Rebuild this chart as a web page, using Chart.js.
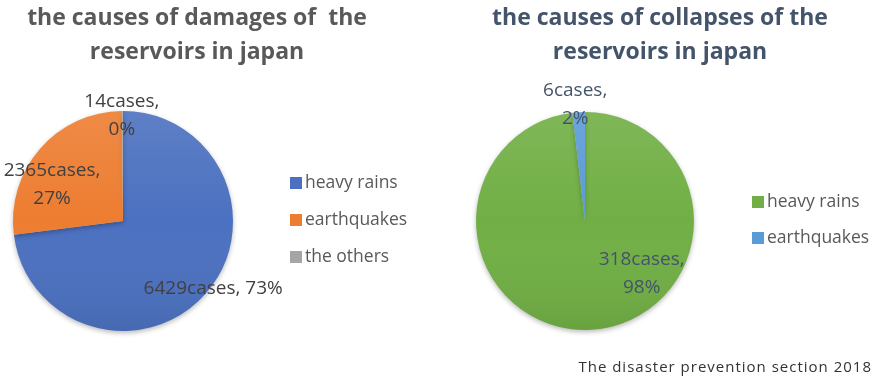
<!DOCTYPE html>
<html>
<head>
<meta charset="utf-8">
<script src="https://cdn.jsdelivr.net/npm/chart.js@4/dist/chart.umd.min.js"></script>
<style>
  html, body { margin: 0; padding: 0; background: #ffffff; }
  #wrap { position: relative; width: 877px; height: 382px; overflow: hidden; }
  #wrap canvas { position: absolute; left: 0; top: 0; }
</style>
</head>
<body>
<div id="wrap">
  <canvas id="damages" width="877" height="382"></canvas>
  <canvas id="collapses" width="877" height="382"></canvas>
</div>
<script>
// ---- data ----
const damageCauses = ['heavy rains', 'earthquakes', 'the others'];
const damageCases = [6429, 2365, 14];
const damageColors = ['#4C71C0', '#ED7D31', '#A5A5A5'];

const collapseCauses = ['heavy rains', 'earthquakes'];
const collapseCases = [318, 6];
const collapseColors = ['#71AF45', '#5B9BD5'];

const damageTitle = ['the causes of damages of  the', 'reservoirs in japan'];
const collapseTitle = ['the causes of collapses of the', 'reservoirs in japan'];
const sourceNote = 'The disaster prevention section 2018';

const FONT = '"Open Sans", "Noto Sans", sans-serif';

// soft drop shadow under the pie, plus a light top-to-bottom sheen
const pieShading = {
  id: 'pieShading',
  beforeDatasetsDraw(chart) {
    const c = chart.ctx;
    c.save();
    c.shadowColor = 'rgba(0,0,0,0.28)';
    c.shadowBlur = 5;
    c.shadowOffsetY = 2;
  },
  afterDatasetsDraw(chart) {
    const c = chart.ctx;
    c.restore();
    const arc = chart.getDatasetMeta(0).data[0];
    if (!arc) return;
    const r = arc.outerRadius;
    c.save();
    c.beginPath();
    c.arc(arc.x, arc.y, r, 0, Math.PI * 2);
    const g = c.createLinearGradient(0, arc.y - r, 0, arc.y + r);
    g.addColorStop(0, 'rgba(255,255,255,0.10)');
    g.addColorStop(0.5, 'rgba(255,255,255,0)');
    g.addColorStop(1, 'rgba(0,0,0,0.07)');
    c.fillStyle = g;
    c.fill();
    c.restore();
  }
};

// title, legend, value labels and note drawn around the pie
const decorations = {
  id: 'decorations',
  afterDraw(chart, args, opts) {
    const c = chart.ctx;
    const meta = chart.getDatasetMeta(0);
    const ds = chart.data.datasets[0];
    const total = ds.data.reduce((a, b) => a + b, 0);
    c.save();

    // title
    c.fillStyle = opts.titleColor;
    c.font = 'bold 23px ' + FONT;
    c.textAlign = 'center';
    c.textBaseline = 'middle';
    opts.title.forEach((line, i) => c.fillText(line, opts.titleX, opts.titleY + i * 34));

    // value labels
    c.font = '19px ' + FONT;
    c.fillStyle = opts.labelColor;
    meta.data.forEach((arc, i) => {
      const p = opts.labelPos[i];
      const x = arc.x + p.dx * arc.outerRadius;
      const y = arc.y + p.dy * arc.outerRadius;
      const pct = Math.round(ds.data[i] / total * 100) + '%';
      const cases = ds.data[i] + 'cases,';
      if (p.oneLine) {
        c.fillText(cases + ' ' + pct, x, y);
      } else {
        c.fillText(cases, x, y - 14);
        c.fillText(pct, x, y + 14);
      }
    });

    // legend
    c.textAlign = 'left';
    c.font = '17.5px ' + FONT;
    chart.data.labels.forEach((lab, i) => {
      const y = opts.legendY + i * opts.legendGap;
      c.fillStyle = ds.backgroundColor[i];
      c.fillRect(opts.legendX, y - 6, 12, 12);
      c.fillStyle = '#595959';
      c.fillText(lab, opts.legendX + 15, y);
    });

    if (opts.note) {
      c.font = '15px ' + FONT;
      c.fillStyle = '#333333';
      c.textAlign = 'right';
      if ('letterSpacing' in c) c.letterSpacing = '1px';
      c.fillText(opts.note, 872, 368);
    }
    c.restore();
  }
};

function makePie(id, labels, values, colors, pad, deco) {
  return new Chart(document.getElementById(id), {
    type: 'pie',
    data: {
      labels: labels,
      datasets: [{
        data: values,
        backgroundColor: colors,
        borderWidth: 0
      }]
    },
    options: {
      responsive: false,
      animation: false,
      layout: { padding: pad },
      plugins: {
        legend: { display: false },
        tooltip: { enabled: false },
        decorations: deco
      }
    },
    plugins: [pieShading, decorations]
  });
}

makePie('damages', damageCauses, damageCases, damageColors,
  { left: 13, top: 111, right: 644, bottom: 51 },
  {
    title: damageTitle, titleX: 197, titleY: 18, titleColor: '#595959',
    labelColor: '#404040',
    labelPos: [
      { dx: 0.82, dy: 0.61, oneLine: true },
      { dx: -0.645, dy: -0.33 },
      { dx: -0.01, dy: -0.96 }
    ],
    legendX: 290, legendY: 183, legendGap: 37
  });

makePie('collapses', collapseCauses, collapseCases, collapseColors,
  { left: 476, top: 112, right: 183, bottom: 52 },
  {
    title: collapseTitle, titleX: 660, titleY: 18, titleColor: '#44546A',
    labelColor: '#44546A',
    labelPos: [
      { dx: 0.52, dy: 0.48 },
      { dx: -0.09, dy: -1.07 }
    ],
    legendX: 752, legendY: 202, legendGap: 36,
    note: sourceNote
  });
</script>
</body>
</html>
